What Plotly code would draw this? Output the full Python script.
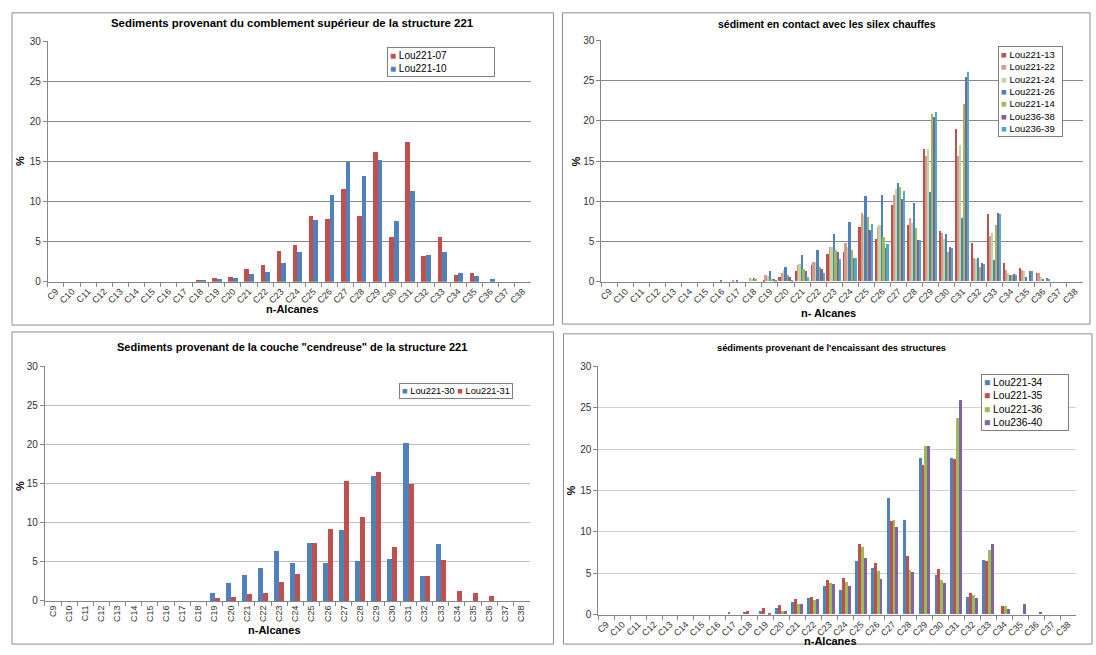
import plotly.graph_objects as go

W, H = 1096, 655

categories = ['C9', 'C10', 'C11', 'C12', 'C13', 'C14', 'C15', 'C16', 'C17', 'C18', 'C19',
              'C20', 'C21', 'C22', 'C23', 'C24', 'C25', 'C26', 'C27', 'C28', 'C29',
              'C30', 'C31', 'C32', 'C33', 'C34', 'C35', 'C36', 'C37', 'C38']

# Panel 1
lou221_07 = [0]*9 + [0.2, 0.4, 0.6, 1.5, 2.0, 3.8, 4.6, 8.2, 7.8, 11.6, 8.2, 16.1, 5.5, 17.4, 3.2, 5.5, 0.8, 1.1, 0, 0, 0]
lou221_10 = [0]*9 + [0.1, 0.3, 0.4, 0.9, 1.2, 2.3, 3.7, 7.7, 10.8, 14.9, 13.1, 15.2, 7.6, 11.3, 3.3, 3.7, 1.0, 0.75, 0.33, 0, 0]

# Panel 2
lou221_13 = [0]*10 + [0.2, 0.5, 1.35, 2.05, 3.4, 3.7, 6.75, 5.3, 9.45, 7.0, 16.5, 6.3, 19.0, 4.8, 8.4, 2.25, 1.7, 1.0, 0, 0]
lou221_22 = [0]*8 + [0.2, 0.45, 0.8, 1.05, 2.0, 2.45, 4.3, 4.8, 8.45, 6.8, 10.8, 7.85, 15.6, 6.05, 15.6, 2.9, 5.65, 1.4, 1.4, 1.0, 0, 0]
lou221_24 = [0]*9 + [0.35, 0.7, 1.4, 2.15, 2.45, 4.3, 4.3, 8.3, 7.0, 11.55, 7.3, 16.45, 5.25, 16.95, 2.8, 6.0, 1.1, 1.25, 0.5, 0, 0]
lou221_26 = [0]*7 + [0.1, 0.2, 0.45, 1.25, 1.85, 3.35, 3.9, 5.95, 7.35, 10.6, 10.7, 12.25, 9.7, 11.15, 5.85, 7.85, 2.9, 2.7, 0.8, 0.5, 0.25, 0, 0]
lou221_14 = [0]*9 + [0.25, 0.35, 0.75, 1.6, 1.8, 3.95, 3.9, 8.0, 5.55, 11.8, 6.7, 20.75, 3.7, 22.05, 1.8, 7.0, 0.75, 0, 0, 0, 0]
lou236_38 = [0]*10 + [0.25, 0.5, 1.25, 1.55, 3.7, 2.9, 6.45, 4.2, 10.25, 5.15, 20.45, 4.3, 25.45, 2.35, 8.45, 0.9, 1.3, 0.4, 0, 0]
lou236_39 = [0]*10 + [0.1, 0.2, 0.55, 1.0, 2.8, 2.9, 7.1, 4.65, 11.2, 5.1, 21.0, 4.1, 26.0, 2.2, 8.35, 0.8, 1.3, 0.3, 0, 0]

# Panel 3
lou221_30 = [0]*10 + [1.0, 2.3, 3.3, 4.2, 6.4, 4.8, 7.4, 4.8, 9.0, 5.1, 15.9, 5.3, 20.2, 3.1, 7.3, 0, 0, 0, 0, 0]
lou221_31 = [0]*10 + [0.3, 0.4, 0.8, 1.0, 2.4, 3.4, 7.4, 9.1, 15.3, 10.7, 16.4, 6.9, 14.9, 3.2, 5.2, 1.2, 1.0, 0.55, 0, 0]

# Panel 4
lou221_34 = [0]*8 + [0.25, 0.3, 0.45, 0.8, 1.5, 1.95, 3.4, 2.9, 6.5, 5.6, 14.05, 11.45, 18.85, 4.7, 18.85, 2.1, 6.55, 0, 0, 0, 0, 0]
lou221_35 = [0]*9 + [0.45, 0.75, 1.1, 1.8, 2.1, 4.1, 4.4, 8.55, 6.2, 11.3, 7.0, 18.05, 5.5, 18.8, 2.55, 6.45, 1.0, 0, 0, 0, 0]
lou221_36 = [0]*9 + [0, 0, 0.35, 1.2, 1.75, 3.75, 3.85, 8.15, 5.2, 11.4, 5.3, 20.35, 4.1, 23.75, 2.3, 7.75, 1.0, 0, 0, 0, 0]
lou236_40 = [0]*9 + [0, 0.15, 0.4, 1.25, 1.85, 3.7, 3.4, 6.75, 4.25, 10.5, 5.15, 20.35, 3.75, 25.85, 2.0, 8.55, 0.65, 1.2, 0.3, 0, 0]

RED = '#C0504D'
BLUE = '#4F81BD'
PINK = '#D99694'
LGREEN = '#C3D69B'
GREEN = '#9BBB59'
PURPLE = '#8064A2'
TEAL = '#4BACC6'

FONT = 'Liberation Sans, Arial, sans-serif'
TICKC = '#333333'


def px(x):
    return x / W


def py(y):
    return 1 - y / H


panels = [
    dict(ax='', group=0.58, series=[('Lou221-07', lou221_07, RED), ('Lou221-10', lou221_10, BLUE)],
         leg=dict(x=385, y=42, w=108, size=10, horiz=False)),
    dict(ax='2', group=0.87, series=[('Lou221-13', lou221_13, RED), ('Lou221-22', lou221_22, PINK),
                                     ('Lou221-24', lou221_24, LGREEN), ('Lou221-26', lou221_26, BLUE),
                                     ('Lou221-14', lou221_14, GREEN), ('Lou236-38', lou236_38, PURPLE),
                                     ('Lou236-39', lou236_39, TEAL)],
         leg=dict(x=998, y=41, w=65, size=9.5, horiz=False)),
    dict(ax='3', group=0.62, series=[('Lou221-30', lou221_30, BLUE), ('Lou221-31', lou221_31, RED)],
         leg=dict(x=397, y=384, w=None, size=9.3, horiz=True)),
    dict(ax='4', group=0.73, series=[('Lou221-34', lou221_34, BLUE), ('Lou221-35', lou221_35, RED),
                                     ('Lou221-36', lou221_36, GREEN), ('Lou236-40', lou236_40, PURPLE)],
         leg=dict(x=981, y=375, w=88, size=10.3, horiz=False)),
]

fig = go.Figure()
ann = []
for p in panels:
    n = len(p['series'])
    w = p['group'] / n
    for i, (name, vals, col) in enumerate(p['series']):
        fig.add_trace(go.Bar(
            x=categories, y=vals, name=name, showlegend=False,
            marker=dict(color=col, line=dict(width=0)),
            width=w, offset=-p['group'] / 2 + i * w,
            xaxis='x' + p['ax'], yaxis='y' + p['ax'],
        ))
    lg = p['leg']
    items = ["<span style='color:%s'>■</span> %s" % (col, name) for (name, _, col) in p['series']]
    sep = ' ' if lg['horiz'] else '<br>'
    pad = 2
    a = dict(x=px(lg['x']), y=py(lg['y']), xref='paper', yref='paper',
             xanchor='left', yanchor='top', showarrow=False, align='left',
             text=sep.join(items),
             bordercolor='#7f7f7f', borderwidth=1, borderpad=pad, bgcolor='white',
             font=dict(family=FONT, size=lg['size'], color='#000000'))
    if lg['w']:
        a['width'] = lg['w'] - 2 * pad - 2
    ann.append(a)


def xaxis(dom, anchor, angle, tsize=9):
    return dict(domain=[px(dom[0]), px(dom[1])], anchor=anchor, type='category',
                range=[-0.5, 29.5], showline=True, linecolor='#868686', linewidth=1,
                ticks='outside', tickson='boundaries', ticklen=4, tickcolor='#868686',
                tickangle=angle, tickfont=dict(family=FONT, size=tsize, color=TICKC),
                showgrid=False, zeroline=False, fixedrange=True)


def yaxis(dom, anchor, gridc):
    return dict(domain=[py(dom[1]), py(dom[0])], anchor=anchor, range=[0, 30], dtick=5,
                showline=True, linecolor='#868686', linewidth=1,
                ticks='outside', ticklen=4, tickcolor='#868686',
                tickfont=dict(family=FONT, size=10, color=TICKC),
                showgrid=True, gridcolor=gridc, gridwidth=1, zeroline=False, fixedrange=True)


layout = dict(
    width=W, height=H, autosize=False,
    margin=dict(l=0, r=0, t=0, b=0),
    paper_bgcolor='white', plot_bgcolor='white',
    barmode='group', bargap=0, bargroupgap=0,
    font=dict(family=FONT, size=10, color='#000000'),
    xaxis=xaxis((45, 529), 'y', -45),
    yaxis=yaxis((36, 281), 'x', '#8a8a8a'),
    xaxis2=xaxis((600, 1083), 'y2', -45),
    yaxis2=yaxis((35, 281), 'x2', '#8a8a8a'),
    xaxis3=xaxis((42, 528), 'y3', -90),
    yaxis3=yaxis((367, 606), 'x3', '#bdbdbd'),
    xaxis4=xaxis((597, 1076), 'y4', -45),
    yaxis4=yaxis((367, 620), 'x4', '#cfcfcf'),
    showlegend=False,
)
fig.update_layout(**layout)

# panel frames
frames = [(9, 7, 552, 325), (561, 7, 1090, 324), (9, 332, 552, 650), (562, 334, 1092, 650)]
for (x0, y0, x1, y1) in frames:
    fig.add_shape(type='rect', xref='paper', yref='paper', x0=px(x0), y0=py(y0), x1=px(x1), y1=py(y1),
                  line=dict(color='#8c8c8c', width=1), fillcolor='rgba(0,0,0,0)', layer='below')


def text(x, y, s, size=11, angle=0):
    ann.append(dict(x=px(x), y=py(y), xref='paper', yref='paper', text=s, showarrow=False,
                    xanchor='center', yanchor='middle', textangle=angle,
                    font=dict(family=FONT, size=size, color='#000000')))


text(290, 17, '<b>Sediments provenant du comblement supérieur de la structure 221</b>', 11.4)
text(826, 18, '<b>sédiment en contact avec les silex chauffes</b>', 10.5)
text(290, 347, '<b>Sediments provenant de la couche "cendreuse" de la structure 221</b>', 11)
text(831, 348, '<b>sédiments provenant de l\'encaissant des structures</b>', 9.3)
text(290, 309, '<b>n-Alcanes</b>', 11)
text(828, 313, '<b>n- Alcanes</b>', 11)
text(272, 636, '<b>n-Alcanes</b>', 11)
text(830, 647, '<b>n-Alcanes</b>', 11)
text(17, 158, '<b>%</b>', 11, -90)
text(575, 158, '<b>%</b>', 11, -90)
text(17, 489, '<b>%</b>', 11, -90)
text(570, 493, '<b>%</b>', 11, -90)
fig.update_layout(annotations=ann)

post = ("var h=document.documentElement,b=document.body;"
        "h.style.margin='0';h.style.padding='0';h.style.overflow='hidden';"
        "b.style.margin='0';b.style.padding='0';b.style.overflow='hidden';"
        "var d=document.getElementById('{plot_id}');"
        "d.style.position='absolute';d.style.left='0px';d.style.top='0px';")

fig.write_html('out.html', config={'displayModeBar': False}, post_script=post)
